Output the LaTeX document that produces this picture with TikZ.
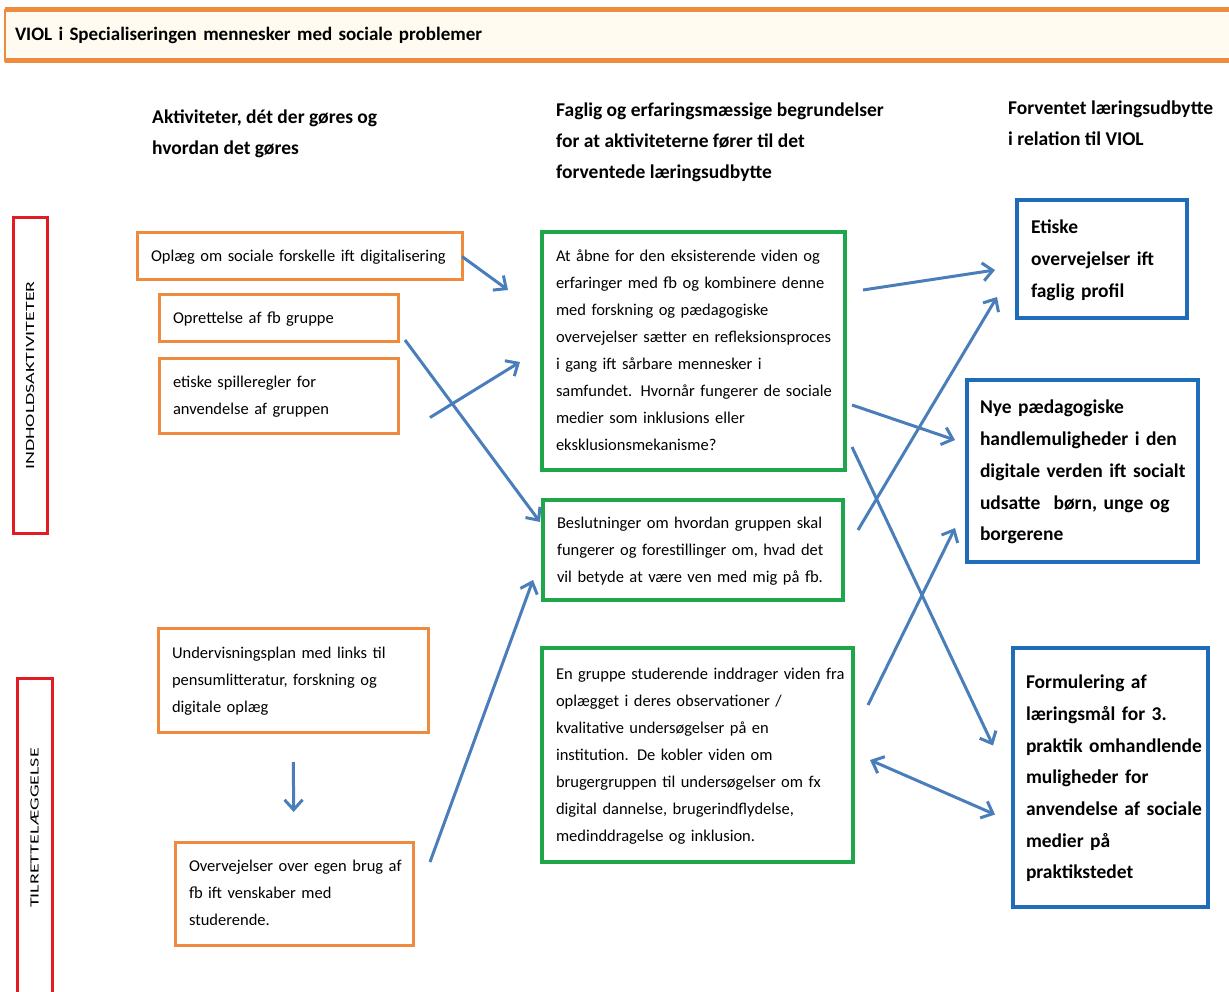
\documentclass[tikz,border=0pt]{standalone}
\usepackage{fontspec}
\usepackage{graphicx}
\setmainfont{Carlito}
\usetikzlibrary{arrows.meta}
\setlength{\parindent}{0pt}
\definecolor{aktorange}{HTML}{EE8B3E}
\definecolor{beggreen}{HTML}{1FA64A}
\definecolor{udbblue}{HTML}{1F6DB8}
\definecolor{fasered}{HTML}{E31B23}
\definecolor{pilblue}{HTML}{4A7EBB}
\definecolor{titelfill}{HTML}{FFFBF1}
\def\Linjer#1{\begin{tabular}{@{}l@{}}#1\end{tabular}}
\def\Fase#1{\scalebox{1.6}[1]{#1}}

\begin{document}
\begin{tikzpicture}[x=1pt,y=-1pt,
    aktbox/.style={draw=aktorange, line width=3pt, fill=white, outer sep=0pt,
      inner xsep=14pt, inner ysep=0pt, align=left,
      font=\fontsize{16.5}{27}\selectfont},
    begbox/.style={aktbox, draw=beggreen, line width=3.5pt},
    udbbox/.style={aktbox, draw=udbblue, line width=4pt,
      font=\bfseries\fontsize{19.5}{31.7}\selectfont},
    fasebox/.style={draw=fasered, line width=3pt, rotate=90, outer sep=0pt,
      inner sep=0pt, font=\fontsize{12.5}{14}\selectfont},
    kolhead/.style={anchor=north west, align=left, inner sep=0pt,
      font=\bfseries\fontsize{19.5}{31}\selectfont},
    pil/.style={draw=pilblue, line width=3pt,
      -{Straight Barb[length=10pt,width=18pt]}}
  ]
  \clip (0,0) rectangle (1229,992);

  % titel
  \node (title) [draw=aktorange, line width=2pt, fill=titelfill, outer sep=0pt,
    minimum width=1235pt, minimum height=51pt, text width=1215pt,
    inner xsep=10pt, align=left, font=\bfseries\fontsize{19}{22}\selectfont]
    at (622.5,35.5) {VIOL i Specialiseringen mennesker med sociale problemer};
  \draw[aktorange, line width=5pt] (title.north west) -- (title.north east);
  \draw[aktorange, line width=5pt] (title.south west) -- (title.south east);

  % kolonner
  \node (hdrAkt) [kolhead] at (152,110) {Aktiviteter, dét der gøres og\\ hvordan det gøres};
  \node (hdrBeg) [kolhead] at (556,103) {Faglig og erfaringsmæssige begrundelser\\ for at aktiviteterne fører til det\\ forventede læringsudbytte};
  \node (hdrUdb) [kolhead] at (1008,101) {Forventet læringsudbytte\\ i relation til VIOL};

  % faser
  \node (indhold) [fasebox, minimum width=315pt, minimum height=34pt] at (30,375.5) {\Fase{INDHOLDSAKTIVITETER}};
  \node (tilrette) [fasebox, minimum width=322pt, minimum height=35pt] at (34.5,839) {\hspace*{22pt}\Fase{TILRETTELÆGGELSE}};

  % aktiviteter
  \node (oplaeg) [aktbox, minimum width=325pt, minimum height=47pt, text width=297pt] at (299.5,256.5)
    {\Linjer{Oplæg om sociale forskelle ift digitalisering}};
  \node (oprettelse) [aktbox, minimum width=239pt, minimum height=47pt, text width=211pt] at (278.5,318.5)
    {\Linjer{Oprettelse af fb gruppe}};
  \node (spilleregler) [aktbox, minimum width=239pt, minimum height=75pt, text width=211pt] at (278.5,395.5)
    {\Linjer{etiske spilleregler for\\ anvendelse af gruppen}};
  \node (undervisning) [aktbox, minimum width=270pt, minimum height=104pt, text width=242pt] at (293,680)
    {\Linjer{Undervisningsplan med links til\\ pensumlitteratur, forskning og\\ digitale oplæg}};
  \node (overvejelser) [aktbox, minimum width=238pt, minimum height=103pt, text width=210pt] at (294,893.5)
    {\Linjer{Overvejelser over egen brug af\\ fb ift venskaber med\\ studerende.}};

  % begrundelser
  \node (aabne) [begbox, minimum width=303pt, minimum height=238pt, text width=275pt] at (693.5,351)
    {\Linjer{At åbne for den eksisterende viden og\\ erfaringer med fb og kombinere denne\\ med forskning og pædagogiske\\ overvejelser sætter en refleksionsproces\\ i gang ift sårbare mennesker i\\ samfundet. Hvornår fungerer de sociale\\ medier som inklusions eller\\ eksklusionsmekanisme?}};
  \node (beslutning) [begbox, minimum width=300pt, minimum height=100pt, text width=272pt] at (693,550)
    {\Linjer{Beslutninger om hvordan gruppen skal\\ fungerer og forestillinger om, hvad det\\ vil betyde at være ven med mig på fb.}};
  \node (gruppe) [begbox, minimum width=311pt, minimum height=214pt, text width=283pt] at (697.5,755)
    {\Linjer{En gruppe studerende inddrager viden fra\\ oplægget i deres observationer /\\ kvalitative undersøgelser på en\\ institution. De kobler viden om\\ brugergruppen til undersøgelser om fx\\ digital dannelse, brugerindflydelse,\\ medinddragelse og inklusion.}};

  % udbytte
  \node (etiske) [udbbox, minimum width=170pt, minimum height=118pt, text width=142pt] at (1102,259)
    {\Linjer{Etiske\\ overvejelser ift\\ faglig profil}};
  \node (nye) [udbbox, minimum width=231pt, minimum height=182pt, text width=205pt, inner xsep=13pt] at (1082.5,471)
    {\Linjer{Nye pædagogiske\\ handlemuligheder i den\\ digitale verden ift socialt\\ udsatte \ børn, unge og\\ borgerene}};
  \node (formulering) [udbbox, minimum width=195pt, minimum height=259pt, text width=169pt, inner xsep=13pt] at (1110.5,777.5)
    {\Linjer{Formulering af\\ læringsmål for 3.\\ praktik omhandlende\\ muligheder for\\ anvendelse af sociale\\ medier på\\ praktikstedet}};

  \draw[pil] (oplaeg.east) -- ([shift={(-34,58)}]aabne.north west);
  \draw[pil] ([shift={(7,-2)}]oprettelse.south east) -- ([shift={(-3,22)}]beslutning.north west);
  \draw[pil] ([shift={(32,22)}]spilleregler.east) -- ([shift={(-22,11)}]aabne.west);
  \draw[pil, shorten <=30pt, shorten >=30pt] (undervisning) -- (overvejelser);
  \draw[pil] ([shift={(17,20)}]overvejelser.north east) -- ([shift={(-10,-20)}]beslutning.south west);

  \draw[pil] ([shift={(18,58)}]aabne.north east) -- ([shift={(-22,11)}]etiske.west);
  \draw[pil] ([shift={(15,30)}]beslutning.north east) -- ([shift={(-20,-21)}]etiske.south west);
  \draw[pil] ([shift={(7,54)}]aabne.east) -- ([shift={(-12,-31)}]nye.west);
  \draw[pil] ([shift={(7,-23)}]aabne.south east) -- ([shift={(-20,-32)}]formulering.west);
  \draw[pil] ([shift={(15,57)}]gruppe.north east) -- ([shift={(-12,-34)}]nye.south west);
  \draw[pil, {Straight Barb[length=10pt,width=18pt]}-{Straight Barb[length=10pt,width=18pt]}]
    ([shift={(17,5)}]gruppe.east) -- ([shift={(-18,37)}]formulering.west);
\end{tikzpicture}
\end{document}
